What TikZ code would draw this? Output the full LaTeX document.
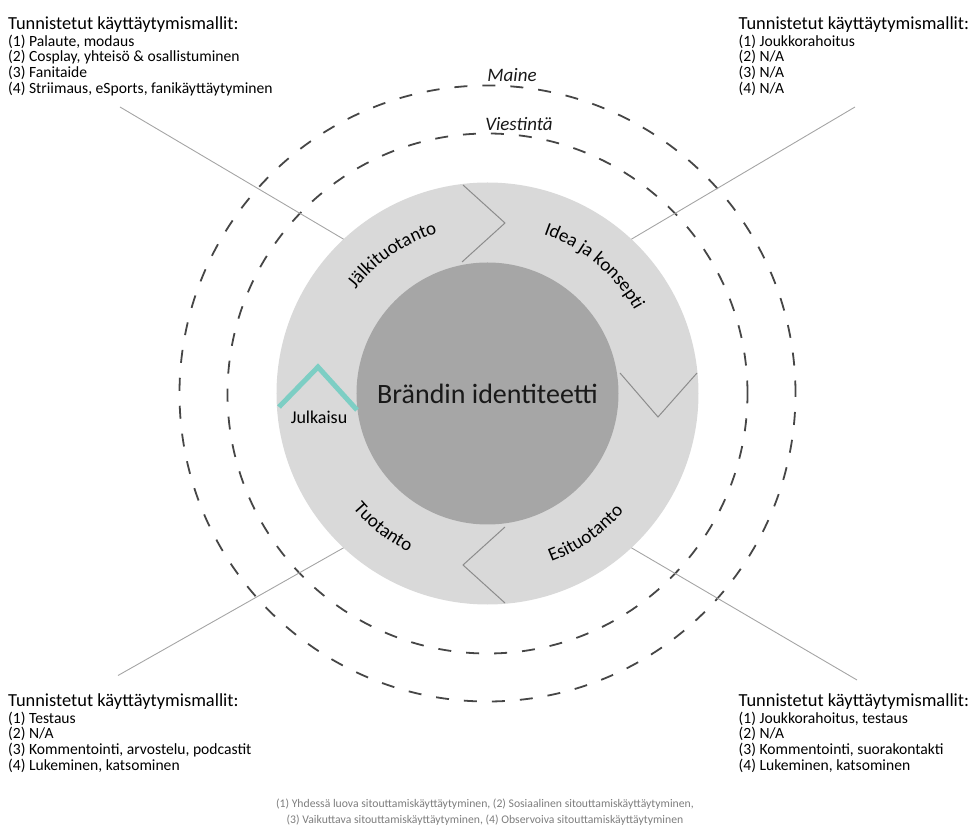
\documentclass[tikz,border=0pt]{standalone}
\usepackage{fontspec}
\setmainfont{Carlito}
\usetikzlibrary{positioning,decorations.text}

\definecolor{ringGray}{RGB}{217,217,217}
\definecolor{coreGray}{RGB}{166,166,166}
\definecolor{lineGray}{RGB}{165,165,165}
\definecolor{dashGray}{RGB}{70,70,70}
\definecolor{markGray}{RGB}{140,140,140}
\definecolor{julkaisuTeal}{RGB}{125,206,196}
\definecolor{captionGray}{RGB}{125,125,125}

\newcommand{\ringfont}{\fontsize{19}{21}\selectfont}

\tikzset{%
  % Specifications for style of nodes:
        stagering/.style = {circle, fill=ringGray, minimum size=422pt,
                            inner sep=0pt, outer sep=0pt},
        brandcore/.style = {circle, fill=coreGray, minimum size=262pt,
                            inner sep=0pt, text=black!90,
                            font=\fontsize{28}{30}\selectfont},
         ringname/.style = {font=\ringfont\itshape, text=black!90},
        modelhead/.style = {anchor=base west, inner sep=0pt,
                            font=\fontsize{18.4}{20}\selectfont},
        modellist/.style = {anchor=north west, inner sep=0pt, align=left,
                            font=\fontsize{15.6}{15.6}\selectfont},
  % Specifications for style of lines:
         dashring/.style = {draw=dashGray, line width=1.8pt,
                            dash pattern=on 13pt off 15pt},
        connector/.style = {draw=lineGray, line width=0.9pt},
        stagemark/.style = {draw=markGray, line width=1pt},
     julkaisumark/.style = {draw=julkaisuTeal, line width=5pt, miter limit=10},
        arclabel/.style  = {decorate, decoration={text along path,
                            text align=center, text={|\ringfont|#1}}},
                       }

\begin{document}
\begin{tikzpicture}[x=1pt, y=1pt, node distance=2pt]
  \useasboundingbox (-487.5,-446.5) rectangle (481.5,393.5);

  % Specification of the outer dashed rings and their names
  \draw[dashring] (0,0) circle (308pt);
  \draw[dashring] (0,0) circle (260pt);
  \node (maine)     [ringname] at (24.5,318) {Maine};
  \node (viestinta) [ringname] at (31.5,269) {Viestintä};

  % Specification of the stage ring and the brand core
  \node (ring) [stagering] at (0,0) {};
  \node (core) [brandcore] at (0,0) {Brändin identiteetti};

  % stage borders
  \draw[stagemark] (-24.5,208.5) -- (17.5,170.5) -- (-25.5,131.5);
  \draw[stagemark] (132.5,20.5) -- (170.5,-23.5) -- (209.5,20.5);
  \draw[stagemark] (17.5,-133.5) -- (-24.5,-171.5) -- (17.5,-209.5);
  \draw[julkaisumark] (-208.5,-13.5) -- (-169.5,26.5) -- (-130.5,-16.5);

  % stage names
  \path[arclabel={Jälkituotanto}] (152:168pt) arc[start angle=152, end angle=97, radius=168pt];
  \path[arclabel={Idea ja konsepti}] (82:169pt) arc[start angle=82, end angle=18, radius=169pt];
  \path[arclabel={Tuotanto}] (210:177pt) arc[start angle=210, end angle=254, radius=177pt];
  \path[arclabel={Esituotanto}] (281:180pt) arc[start angle=281, end angle=329, radius=180pt];
  \node (julkaisu) [font=\fontsize{18}{20}\selectfont] at (-168.5,-23.5) {Julkaisu};

  % Specification of the identified behaviour models
  \node (headUL) [modelhead] at (-479.5,364) {Tunnistetut käyttäytymismallit:};
  \node (listUL) [modellist, below=of headUL.south west, anchor=north west]
        {(1) Palaute, modaus\\(2) Cosplay, yhteisö \& osallistuminen\\(3) Fanitaide\\(4) Striimaus, eSports, fanikäyttäytyminen};
  \node (headUR) [modelhead] at (251,364) {Tunnistetut käyttäytymismallit:};
  \node (listUR) [modellist, below=of headUR.south west, anchor=north west]
        {(1) Joukkorahoitus\\(2) N/A\\(3) N/A\\(4) N/A};
  \node (headLL) [modelhead] at (-479.5,-313) {Tunnistetut käyttäytymismallit:};
  \node (listLL) [modellist, below=of headLL.south west, anchor=north west]
        {(1) Testaus\\(2) N/A\\(3) Kommentointi, arvostelu, podcastit\\(4) Lukeminen, katsominen};
  \node (headLR) [modelhead] at (251,-313) {Tunnistetut käyttäytymismallit:};
  \node (listLR) [modellist, below=of headLR.south west, anchor=north west]
        {(1) Joukkorahoitus, testaus\\(2) N/A\\(3) Kommentointi, suorakontakti\\(4) Lukeminen, katsominen};

  % Specification of lines from the stages to the models
  \coordinate (endUL) at (-367.5,286.5);
  \coordinate (endUR) at (367.5,286.5);
  \coordinate (endLL) at (-369.5,-282);
  \coordinate (endLR) at (369.5,-286.5);
  \draw[connector] (ring.133) -- (endUL);
  \draw[connector] (ring.47)  -- (endUR);
  \draw[connector] (ring.227) -- (endLL);
  \draw[connector] (ring.313) -- (endLR);

  % caption
  \node (legend) [anchor=north, align=center, text=captionGray,
                  font=\fontsize{11.7}{15.5}\selectfont] at (-2.5,-402)
        {(1) Yhdessä luova sitouttamiskäyttäytyminen, (2) Sosiaalinen sitouttamiskäyttäytyminen,\\
         (3) Vaikuttava sitouttamiskäyttäytyminen, (4) Observoiva sitouttamiskäyttäytyminen};
\end{tikzpicture}
\end{document}
